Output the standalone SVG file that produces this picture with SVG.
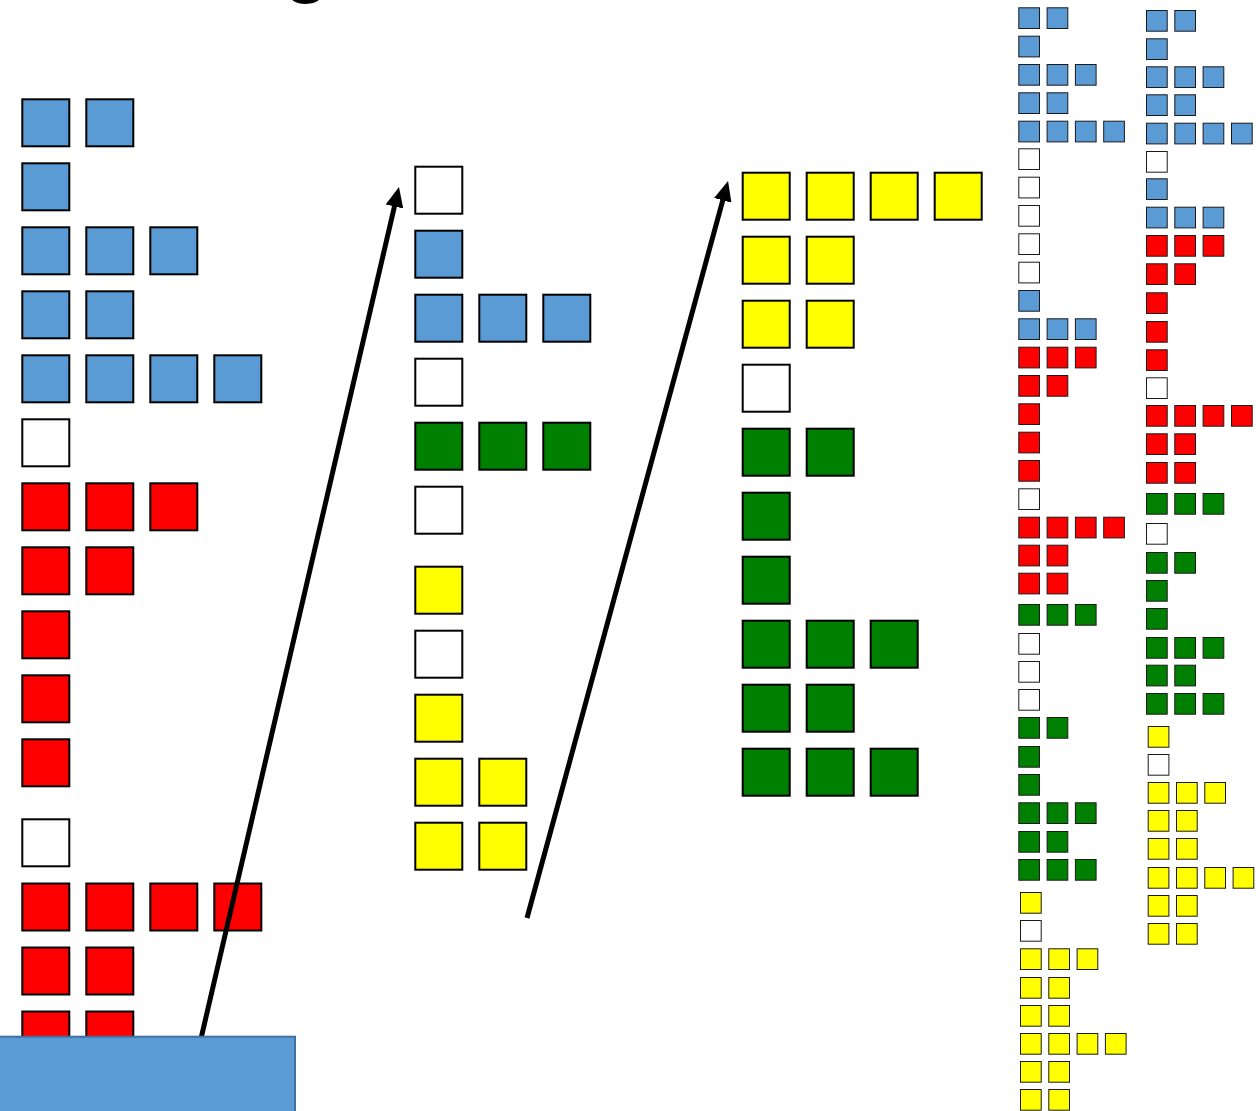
<svg xmlns="http://www.w3.org/2000/svg" width="1256" height="1111" viewBox="0 0 1256 1111">
<style>
.b{fill:#5b9bd5}.r{fill:#ff0000}.g{fill:#008000}.y{fill:#ffff00}.w{fill:#ffffff}
.L rect{stroke:#000;stroke-width:2}
.S rect{stroke:#1a1a1a;stroke-width:1}
.conn line{stroke:#000;stroke-width:5;fill:none}
.title{font-family:"Liberation Sans",Arial,sans-serif;font-size:88px;fill:#000}
</style>
<defs>
<marker id="ah" markerUnits="userSpaceOnUse" markerWidth="22" markerHeight="18" refX="2" refY="9" orient="auto" viewBox="0 0 22 18">
<path d="M0,0 L20,9 L0,18 z" fill="#000"/>
</marker>
</defs>
<rect width="1256" height="1111" fill="#fff"/>
<text class="title" x="282" y="-14.5">g</text>

<g id="colLeft" class="L">
<g id="L1"><rect class="b" x="22.3" y="99.3" width="47" height="47"/><rect class="b" x="86.3" y="99.3" width="47" height="47"/></g>
<g id="L2"><rect class="b" x="22.3" y="163.3" width="47" height="47"/></g>
<g id="L3"><rect class="b" x="22.3" y="227.3" width="47" height="47"/><rect class="b" x="86.3" y="227.3" width="47" height="47"/><rect class="b" x="150.3" y="227.3" width="47" height="47"/></g>
<g id="L4"><rect class="b" x="22.3" y="291.3" width="47" height="47"/><rect class="b" x="86.3" y="291.3" width="47" height="47"/></g>
<g id="L5"><rect class="b" x="22.3" y="355.3" width="47" height="47"/><rect class="b" x="86.3" y="355.3" width="47" height="47"/><rect class="b" x="150.3" y="355.3" width="47" height="47"/><rect class="b" x="214.3" y="355.3" width="47" height="47"/></g>
<g id="L6"><rect class="w" x="22.3" y="419.3" width="47" height="47"/></g>
<g id="L7"><rect class="r" x="22.3" y="483.3" width="47" height="47"/><rect class="r" x="86.3" y="483.3" width="47" height="47"/><rect class="r" x="150.3" y="483.3" width="47" height="47"/></g>
<g id="L8"><rect class="r" x="22.3" y="547.3" width="47" height="47"/><rect class="r" x="86.3" y="547.3" width="47" height="47"/></g>
<g id="L9"><rect class="r" x="22.3" y="611.3" width="47" height="47"/></g>
<g id="L10"><rect class="r" x="22.3" y="675.3" width="47" height="47"/></g>
<g id="L11"><rect class="r" x="22.3" y="739.3" width="47" height="47"/></g>
<g id="L12"><rect class="w" x="22.3" y="819.3" width="47" height="47"/></g>
<g id="L13"><rect class="r" x="22.3" y="883.5" width="47" height="47"/><rect class="r" x="86.3" y="883.5" width="47" height="47"/><rect class="r" x="150.3" y="883.5" width="47" height="47"/><rect class="r" x="214.3" y="883.5" width="47" height="47"/></g>
<g id="L14"><rect class="r" x="22.3" y="947.5" width="47" height="47"/><rect class="r" x="86.3" y="947.5" width="47" height="47"/></g>
<g id="L15"><rect class="r" x="22.3" y="1011.5" width="47" height="47"/><rect class="r" x="86.3" y="1011.5" width="47" height="47"/></g>
</g>

<g id="colMid" class="L">
<g id="M1"><rect class="w" x="415.3" y="166.7" width="47" height="47"/></g>
<g id="M2"><rect class="b" x="415.3" y="230.7" width="47" height="47"/></g>
<g id="M3"><rect class="b" x="415.3" y="294.7" width="47" height="47"/><rect class="b" x="479.3" y="294.7" width="47" height="47"/><rect class="b" x="543.3" y="294.7" width="47" height="47"/></g>
<g id="M4"><rect class="w" x="415.3" y="358.7" width="47" height="47"/></g>
<g id="M5"><rect class="g" x="415.3" y="422.7" width="47" height="47"/><rect class="g" x="479.3" y="422.7" width="47" height="47"/><rect class="g" x="543.3" y="422.7" width="47" height="47"/></g>
<g id="M6"><rect class="w" x="415.3" y="486.7" width="47" height="47"/></g>
<g id="M7"><rect class="y" x="415.3" y="566.7" width="47" height="47"/></g>
<g id="M8"><rect class="w" x="415.3" y="630.7" width="47" height="47"/></g>
<g id="M9"><rect class="y" x="415.3" y="694.7" width="47" height="47"/></g>
<g id="M10"><rect class="y" x="415.3" y="758.7" width="47" height="47"/><rect class="y" x="479.3" y="758.7" width="47" height="47"/></g>
<g id="M11"><rect class="y" x="415.3" y="822.7" width="47" height="47"/><rect class="y" x="479.3" y="822.7" width="47" height="47"/></g>
</g>

<g id="colThird" class="L">
<g id="T1"><rect class="y" x="742.7" y="172.7" width="47" height="47"/><rect class="y" x="806.7" y="172.7" width="47" height="47"/><rect class="y" x="870.7" y="172.7" width="47" height="47"/><rect class="y" x="934.7" y="172.7" width="47" height="47"/></g>
<g id="T2"><rect class="y" x="742.7" y="236.7" width="47" height="47"/><rect class="y" x="806.7" y="236.7" width="47" height="47"/></g>
<g id="T3"><rect class="y" x="742.7" y="300.7" width="47" height="47"/><rect class="y" x="806.7" y="300.7" width="47" height="47"/></g>
<g id="T4"><rect class="w" x="742.7" y="364.7" width="47" height="47"/></g>
<g id="T5"><rect class="g" x="742.7" y="428.7" width="47" height="47"/><rect class="g" x="806.7" y="428.7" width="47" height="47"/></g>
<g id="T6"><rect class="g" x="742.7" y="492.7" width="47" height="47"/></g>
<g id="T7"><rect class="g" x="742.7" y="556.7" width="47" height="47"/></g>
<g id="T8"><rect class="g" x="742.7" y="620.7" width="47" height="47"/><rect class="g" x="806.7" y="620.7" width="47" height="47"/><rect class="g" x="870.7" y="620.7" width="47" height="47"/></g>
<g id="T9"><rect class="g" x="742.7" y="684.7" width="47" height="47"/><rect class="g" x="806.7" y="684.7" width="47" height="47"/></g>
<g id="T10"><rect class="g" x="742.7" y="748.7" width="47" height="47"/><rect class="g" x="806.7" y="748.7" width="47" height="47"/><rect class="g" x="870.7" y="748.7" width="47" height="47"/></g>
</g>

<g id="colA" class="S">
<g id="A1"><rect class="b" x="1018.8" y="7.8" width="20.7" height="20.7"/><rect class="b" x="1047.1" y="7.8" width="20.7" height="20.7"/></g>
<g id="A2"><rect class="b" x="1018.8" y="36.2" width="20.7" height="20.7"/></g>
<g id="A3"><rect class="b" x="1018.8" y="64.5" width="20.7" height="20.7"/><rect class="b" x="1047.1" y="64.5" width="20.7" height="20.7"/><rect class="b" x="1075.4" y="64.5" width="20.7" height="20.7"/></g>
<g id="A4"><rect class="b" x="1018.8" y="92.8" width="20.7" height="20.7"/><rect class="b" x="1047.1" y="92.8" width="20.7" height="20.7"/></g>
<g id="A5"><rect class="b" x="1018.8" y="121.2" width="20.7" height="20.7"/><rect class="b" x="1047.1" y="121.2" width="20.7" height="20.7"/><rect class="b" x="1075.4" y="121.2" width="20.7" height="20.7"/><rect class="b" x="1103.7" y="121.2" width="20.7" height="20.7"/></g>
<g id="A6"><rect class="w" x="1018.8" y="148.8" width="20.7" height="20.7"/></g>
<g id="A7"><rect class="w" x="1018.8" y="177.2" width="20.7" height="20.7"/></g>
<g id="A8"><rect class="w" x="1018.8" y="205.5" width="20.7" height="20.7"/></g>
<g id="A9"><rect class="w" x="1018.8" y="233.8" width="20.7" height="20.7"/></g>
<g id="A10"><rect class="w" x="1018.8" y="262.2" width="20.7" height="20.7"/></g>
<g id="A11"><rect class="b" x="1018.8" y="290.5" width="20.7" height="20.7"/></g>
<g id="A12"><rect class="b" x="1018.8" y="318.8" width="20.7" height="20.7"/><rect class="b" x="1047.1" y="318.8" width="20.7" height="20.7"/><rect class="b" x="1075.4" y="318.8" width="20.7" height="20.7"/></g>
<g id="A13"><rect class="r" x="1018.8" y="347.2" width="20.7" height="20.7"/><rect class="r" x="1047.1" y="347.2" width="20.7" height="20.7"/><rect class="r" x="1075.4" y="347.2" width="20.7" height="20.7"/></g>
<g id="A14"><rect class="r" x="1018.8" y="375.5" width="20.7" height="20.7"/><rect class="r" x="1047.1" y="375.5" width="20.7" height="20.7"/></g>
<g id="A15"><rect class="r" x="1018.8" y="403.8" width="20.7" height="20.7"/></g>
<g id="A16"><rect class="r" x="1018.8" y="432.2" width="20.7" height="20.7"/></g>
<g id="A17"><rect class="r" x="1018.8" y="460.5" width="20.7" height="20.7"/></g>
<g id="A18"><rect class="w" x="1018.8" y="488.8" width="20.7" height="20.7"/></g>
<g id="A19"><rect class="r" x="1018.8" y="517.2" width="20.7" height="20.7"/><rect class="r" x="1047.1" y="517.2" width="20.7" height="20.7"/><rect class="r" x="1075.4" y="517.2" width="20.7" height="20.7"/><rect class="r" x="1103.7" y="517.2" width="20.7" height="20.7"/></g>
<g id="A20"><rect class="r" x="1018.8" y="545.2" width="20.7" height="20.7"/><rect class="r" x="1047.1" y="545.2" width="20.7" height="20.7"/></g>
<g id="A21"><rect class="r" x="1018.8" y="573.2" width="20.7" height="20.7"/><rect class="r" x="1047.1" y="573.2" width="20.7" height="20.7"/></g>
<g id="A22"><rect class="g" x="1018.8" y="604.5" width="20.7" height="20.7"/><rect class="g" x="1047.1" y="604.5" width="20.7" height="20.7"/><rect class="g" x="1075.4" y="604.5" width="20.7" height="20.7"/></g>
<g id="A23"><rect class="w" x="1018.8" y="633.5" width="20.7" height="20.7"/></g>
<g id="A24"><rect class="w" x="1018.8" y="661.5" width="20.7" height="20.7"/></g>
<g id="A25"><rect class="w" x="1018.8" y="689.5" width="20.7" height="20.7"/></g>
<g id="A26"><rect class="g" x="1018.8" y="717.5" width="20.7" height="20.7"/><rect class="g" x="1047.1" y="717.5" width="20.7" height="20.7"/></g>
<g id="A27"><rect class="g" x="1018.8" y="746.5" width="20.7" height="20.7"/></g>
<g id="A28"><rect class="g" x="1018.8" y="774.5" width="20.7" height="20.7"/></g>
<g id="A29"><rect class="g" x="1018.8" y="802.8" width="20.7" height="20.7"/><rect class="g" x="1047.1" y="802.8" width="20.7" height="20.7"/><rect class="g" x="1075.4" y="802.8" width="20.7" height="20.7"/></g>
<g id="A30"><rect class="g" x="1018.8" y="831.5" width="20.7" height="20.7"/><rect class="g" x="1047.1" y="831.5" width="20.7" height="20.7"/></g>
<g id="A31"><rect class="g" x="1018.8" y="859.5" width="20.7" height="20.7"/><rect class="g" x="1047.1" y="859.5" width="20.7" height="20.7"/><rect class="g" x="1075.4" y="859.5" width="20.7" height="20.7"/></g>
<g id="A32"><rect class="y" x="1020.5" y="892.5" width="20.7" height="20.7"/></g>
<g id="A33"><rect class="w" x="1020.5" y="920.5" width="20.7" height="20.7"/></g>
<g id="A34"><rect class="y" x="1020.5" y="948.8" width="20.7" height="20.7"/><rect class="y" x="1048.8" y="948.8" width="20.7" height="20.7"/><rect class="y" x="1077.1" y="948.8" width="20.7" height="20.7"/></g>
<g id="A35"><rect class="y" x="1020.5" y="977.5" width="20.7" height="20.7"/><rect class="y" x="1048.8" y="977.5" width="20.7" height="20.7"/></g>
<g id="A36"><rect class="y" x="1020.5" y="1005.5" width="20.7" height="20.7"/><rect class="y" x="1048.8" y="1005.5" width="20.7" height="20.7"/></g>
<g id="A37"><rect class="y" x="1020.5" y="1033.5" width="20.7" height="20.7"/><rect class="y" x="1048.8" y="1033.5" width="20.7" height="20.7"/><rect class="y" x="1077.1" y="1033.5" width="20.7" height="20.7"/><rect class="y" x="1105.4" y="1033.5" width="20.7" height="20.7"/></g>
<g id="A38"><rect class="y" x="1020.5" y="1061.5" width="20.7" height="20.7"/><rect class="y" x="1048.8" y="1061.5" width="20.7" height="20.7"/></g>
<g id="A39"><rect class="y" x="1020.5" y="1089.5" width="20.7" height="20.7"/><rect class="y" x="1048.8" y="1089.5" width="20.7" height="20.7"/></g>
</g>

<g id="colB" class="S">
<g id="B1"><rect class="b" x="1146.5" y="10.5" width="20.7" height="20.7"/><rect class="b" x="1174.8" y="10.5" width="20.7" height="20.7"/></g>
<g id="B2"><rect class="b" x="1146.5" y="38.8" width="20.7" height="20.7"/></g>
<g id="B3"><rect class="b" x="1146.5" y="66.8" width="20.7" height="20.7"/><rect class="b" x="1174.8" y="66.8" width="20.7" height="20.7"/><rect class="b" x="1203.1" y="66.8" width="20.7" height="20.7"/></g>
<g id="B4"><rect class="b" x="1146.5" y="94.8" width="20.7" height="20.7"/><rect class="b" x="1174.8" y="94.8" width="20.7" height="20.7"/></g>
<g id="B5"><rect class="b" x="1146.5" y="123.2" width="20.7" height="20.7"/><rect class="b" x="1174.8" y="123.2" width="20.7" height="20.7"/><rect class="b" x="1203.1" y="123.2" width="20.7" height="20.7"/><rect class="b" x="1231.5" y="123.2" width="20.7" height="20.7"/></g>
<g id="B6"><rect class="w" x="1146.5" y="151.5" width="20.7" height="20.7"/></g>
<g id="B7"><rect class="b" x="1146.5" y="178.8" width="20.7" height="20.7"/></g>
<g id="B8"><rect class="b" x="1146.5" y="207.2" width="20.7" height="20.7"/><rect class="b" x="1174.8" y="207.2" width="20.7" height="20.7"/><rect class="b" x="1203.1" y="207.2" width="20.7" height="20.7"/></g>
<g id="B9"><rect class="r" x="1146.5" y="235.5" width="20.7" height="20.7"/><rect class="r" x="1174.8" y="235.5" width="20.7" height="20.7"/><rect class="r" x="1203.1" y="235.5" width="20.7" height="20.7"/></g>
<g id="B10"><rect class="r" x="1146.5" y="263.8" width="20.7" height="20.7"/><rect class="r" x="1174.8" y="263.8" width="20.7" height="20.7"/></g>
<g id="B11"><rect class="r" x="1146.5" y="292.8" width="20.7" height="20.7"/></g>
<g id="B12"><rect class="r" x="1146.5" y="321.5" width="20.7" height="20.7"/></g>
<g id="B13"><rect class="r" x="1146.5" y="349.8" width="20.7" height="20.7"/></g>
<g id="B14"><rect class="w" x="1146.5" y="377.8" width="20.7" height="20.7"/></g>
<g id="B15"><rect class="r" x="1146.5" y="405.5" width="20.7" height="20.7"/><rect class="r" x="1174.8" y="405.5" width="20.7" height="20.7"/><rect class="r" x="1203.1" y="405.5" width="20.7" height="20.7"/><rect class="r" x="1231.5" y="405.5" width="20.7" height="20.7"/></g>
<g id="B16"><rect class="r" x="1146.5" y="433.8" width="20.7" height="20.7"/><rect class="r" x="1174.8" y="433.8" width="20.7" height="20.7"/></g>
<g id="B17"><rect class="r" x="1146.5" y="462.5" width="20.7" height="20.7"/><rect class="r" x="1174.8" y="462.5" width="20.7" height="20.7"/></g>
<g id="B18"><rect class="g" x="1146.5" y="493.5" width="20.7" height="20.7"/><rect class="g" x="1174.8" y="493.5" width="20.7" height="20.7"/><rect class="g" x="1203.1" y="493.5" width="20.7" height="20.7"/></g>
<g id="B19"><rect class="w" x="1146.5" y="523.5" width="20.7" height="20.7"/></g>
<g id="B20"><rect class="g" x="1146.5" y="552.5" width="20.7" height="20.7"/><rect class="g" x="1174.8" y="552.5" width="20.7" height="20.7"/></g>
<g id="B21"><rect class="g" x="1146.5" y="580.5" width="20.7" height="20.7"/></g>
<g id="B22"><rect class="g" x="1146.5" y="608.5" width="20.7" height="20.7"/></g>
<g id="B23"><rect class="g" x="1146.5" y="637.5" width="20.7" height="20.7"/><rect class="g" x="1174.8" y="637.5" width="20.7" height="20.7"/><rect class="g" x="1203.1" y="637.5" width="20.7" height="20.7"/></g>
<g id="B24"><rect class="g" x="1146.5" y="665.2" width="20.7" height="20.7"/><rect class="g" x="1174.8" y="665.2" width="20.7" height="20.7"/></g>
<g id="B25"><rect class="g" x="1146.5" y="693.5" width="20.7" height="20.7"/><rect class="g" x="1174.8" y="693.5" width="20.7" height="20.7"/><rect class="g" x="1203.1" y="693.5" width="20.7" height="20.7"/></g>
<g id="B26"><rect class="y" x="1148.2" y="726.5" width="20.7" height="20.7"/></g>
<g id="B27"><rect class="w" x="1148.2" y="754.5" width="20.7" height="20.7"/></g>
<g id="B28"><rect class="y" x="1148.2" y="782.5" width="20.7" height="20.7"/><rect class="y" x="1176.5" y="782.5" width="20.7" height="20.7"/><rect class="y" x="1204.8" y="782.5" width="20.7" height="20.7"/></g>
<g id="B29"><rect class="y" x="1148.2" y="810.5" width="20.7" height="20.7"/><rect class="y" x="1176.5" y="810.5" width="20.7" height="20.7"/></g>
<g id="B30"><rect class="y" x="1148.2" y="838.5" width="20.7" height="20.7"/><rect class="y" x="1176.5" y="838.5" width="20.7" height="20.7"/></g>
<g id="B31"><rect class="y" x="1148.2" y="867.5" width="20.7" height="20.7"/><rect class="y" x="1176.5" y="867.5" width="20.7" height="20.7"/><rect class="y" x="1204.8" y="867.5" width="20.7" height="20.7"/><rect class="y" x="1233.1" y="867.5" width="20.7" height="20.7"/></g>
<g id="B32"><rect class="y" x="1148.2" y="895.5" width="20.7" height="20.7"/><rect class="y" x="1176.5" y="895.5" width="20.7" height="20.7"/></g>
<g id="B33"><rect class="y" x="1148.2" y="923.5" width="20.7" height="20.7"/><rect class="y" x="1176.5" y="923.5" width="20.7" height="20.7"/></g>
</g>

<g id="connectors" class="conn">
<line x1="199.5" y1="1045" x2="394.9" y2="204.5" marker-end="url(#ah)"/>
<line x1="527" y1="918" x2="723.3" y2="198.4" marker-end="url(#ah)"/>
</g>

<g id="bottomBox">
<rect x="-2" y="1036.7" width="297" height="80" fill="#5b9bd5" stroke="#41719c" stroke-width="2"/>
</g>
</svg>
